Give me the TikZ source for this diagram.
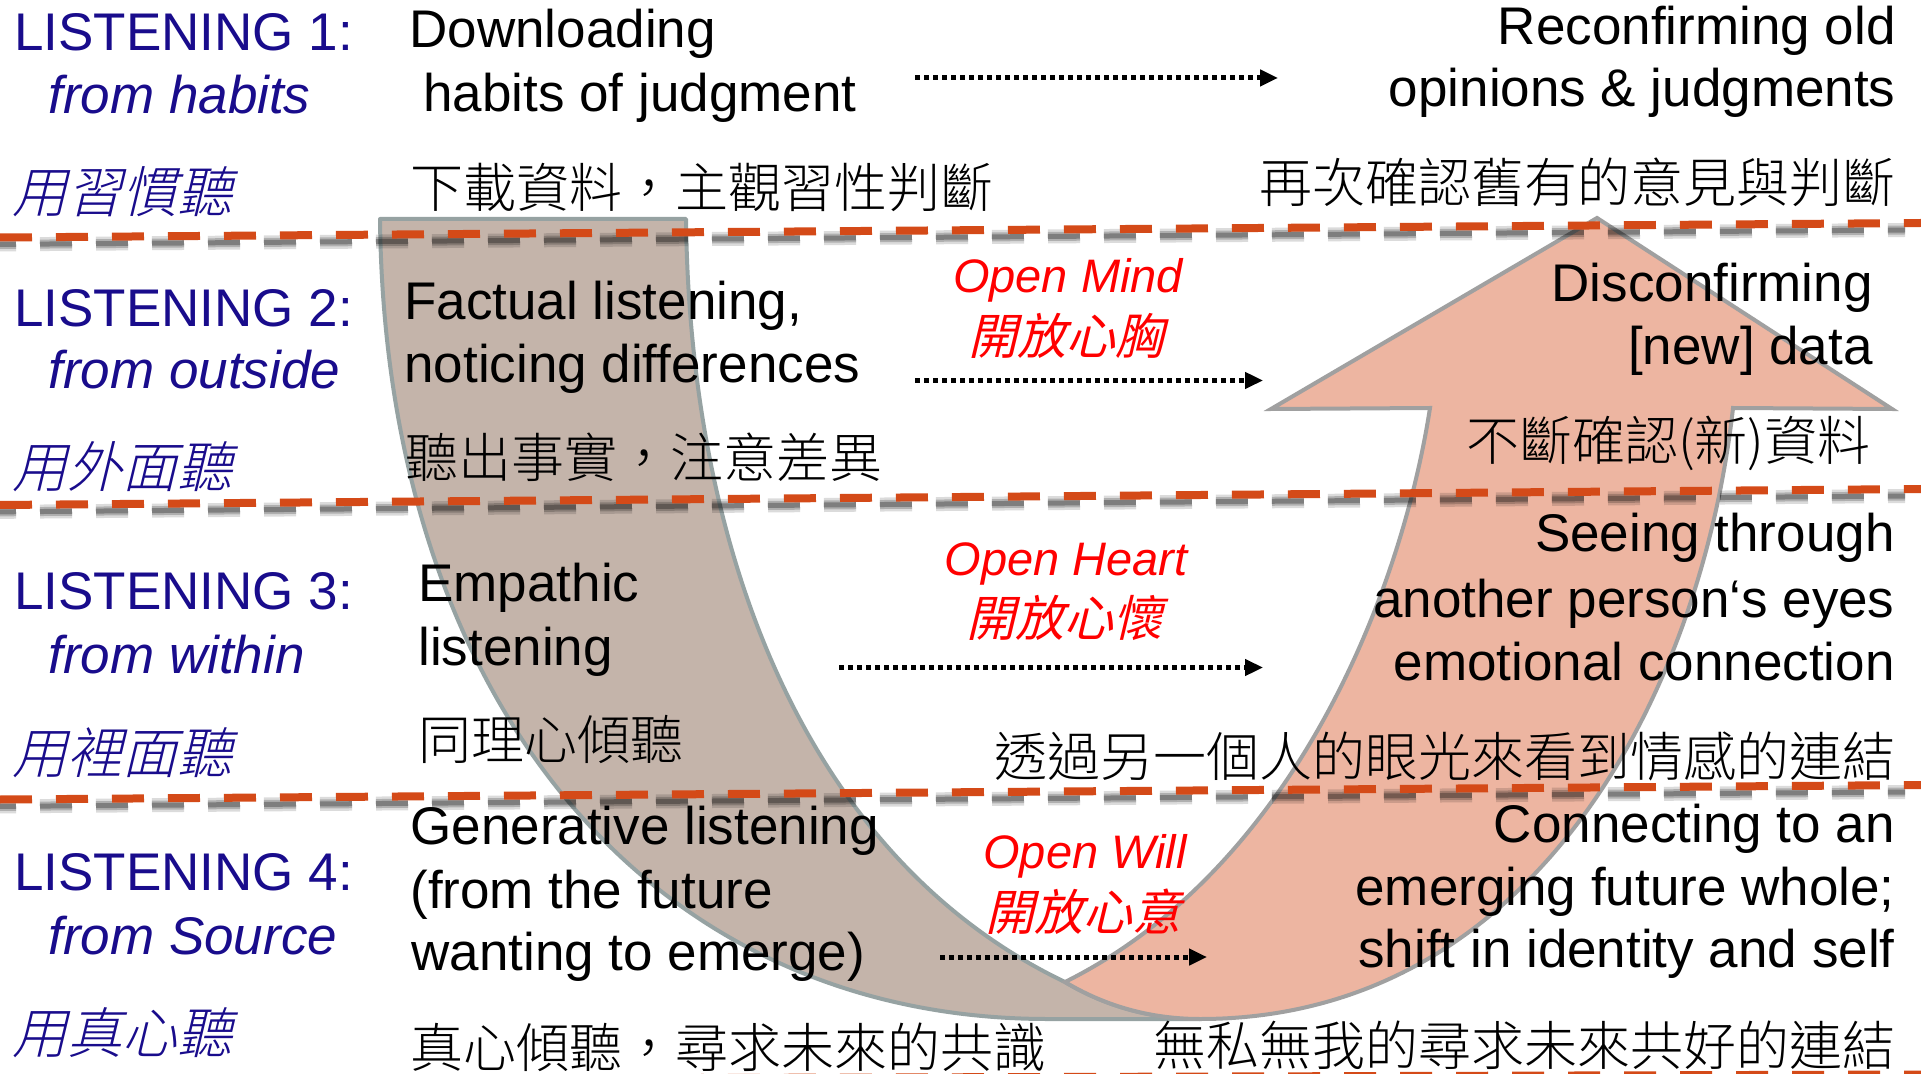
\documentclass[tikz,border=0pt]{standalone}
\usepackage{fontspec}
\setmainfont{Liberation Sans}
\newfontfamily\cjk{Noto Sans CJK TC}[UprightFont={* Light}]
\newfontfamily\cjkit{Noto Sans CJK TC}[UprightFont={* Light},FakeSlant=0.24]
\newfontfamily\cjkred{Noto Sans CJK TC}[FakeSlant=0.24]
\usetikzlibrary{arrows.meta}
\definecolor{navy}{RGB}{25,12,140}
\definecolor{dashorange}{RGB}{212,74,24}
\definecolor{brownfill}{RGB}{196,180,170}
\definecolor{brownedge}{RGB}{150,162,162}
\definecolor{pinkfill}{RGB}{237,181,161}
\definecolor{pinkedge}{RGB}{160,160,160}
\definecolor{openred}{RGB}{255,0,0}
\tikzset{
  lt/.style={inner sep=0pt, anchor=base west, font=\fontsize{26.5pt}{30pt}\selectfont},
  rt/.style={inner sep=0pt, anchor=base east, font=\fontsize{26.5pt}{30pt}\selectfont},
  ltzh/.style={inner sep=0pt, anchor=base west, font=\cjk\fontsize{26.5pt}{30pt}\selectfont},
  rtzh/.style={inner sep=0pt, anchor=base east, font=\cjk\fontsize{26.5pt}{30pt}\selectfont},
  lvl/.style={lt, text=navy},
  lvlit/.style={inner sep=0pt, anchor=base west, text=navy, font=\fontsize{26.5pt}{30pt}\selectfont\itshape},
  lvlzh/.style={inner sep=0pt, anchor=base west, text=navy, font=\cjkit\fontsize{27.5pt}{30pt}\selectfont},
  openlab/.style={inner sep=0pt, anchor=base, text=openred, font=\fontsize{23.5pt}{26pt}\selectfont\itshape},
  openzh/.style={inner sep=0pt, anchor=base, text=openred, font=\cjkred\fontsize{24.5pt}{26pt}\selectfont},
  sepline/.style={draw=dashorange, line width=4pt, dash pattern=on 16pt off 12pt},
  shadowA/.style={draw=black, opacity=0.14, line width=7pt, dash pattern=on 16pt off 12pt},
  shadowB/.style={draw=black, opacity=0.2, line width=4.5pt, dash pattern=on 16pt off 12pt},
  shadowC/.style={draw=black, opacity=0.28, line width=2.5pt, dash pattern=on 16pt off 12pt},
  dotarrow/.style={draw=black, line width=2.5pt, dash pattern=on 2.5pt off 2pt, -{Triangle[length=9pt,width=8pt]}},
  bandbrown/.style={fill=brownfill, draw=brownedge, line width=2pt, line join=round},
  bandpink/.style={fill=pinkfill, draw=pinkedge, line width=2pt, line join=miter}
}
\begin{document}
\begin{tikzpicture}[x=0.5pt,y=-0.5pt]
\useasboundingbox[fill=white] (0,0) rectangle (1921,1074);

% U-shaped band
\path[bandbrown]
 (380,219) -- (686,219) .. controls (690,560) and (810,860) .. (1065,982)
 .. controls (1095,1000) and (1140,1019) .. (1200,1019) -- (1050,1019)
 .. controls (650,1020) and (385,700) .. (380,219) -- cycle;
\path[bandpink]
 (1065,982) .. controls (1290,870) and (1400,600) .. (1430,408) -- (1271,409)
 -- (1597,218) -- (1892,409) -- (1733,408)
 .. controls (1700,700) and (1530,1019) .. (1200,1019)
 .. controls (1140,1019) and (1095,1000) .. (1065,982) -- cycle;

% separator lines
\foreach \ya/\yb [count=\i] in {237.5/223, 505/489, 799.5/785, 1080/1074.5}{
  \coordinate (s\i a) at (0,\ya);
  \coordinate (s\i b) at (1921,\yb);
  \coordinate (h\i a) at (-16,\ya+7);
  \coordinate (h\i b) at (1905,\yb+7);
  \draw[shadowA] (h\i a) -- (h\i b);
  \draw[shadowB] (h\i a) -- (h\i b);
  \draw[shadowC] (h\i a) -- (h\i b);
  \draw[sepline] (s\i a) -- (s\i b);
}

% dotted arrows
\coordinate (a1s) at (915,78);    \coordinate (a1e) at (1278,78);
\coordinate (a2s) at (915,380.5); \coordinate (a2e) at (1263,380.5);
\coordinate (a3s) at (839,667.5); \coordinate (a3e) at (1263,667.5);
\coordinate (a4s) at (940,957);   \coordinate (a4e) at (1207,957);
\draw[dotarrow] (a1s) -- (a1e);
\draw[dotarrow] (a2s) -- (a2e);
\draw[dotarrow] (a3s) -- (a3e);
\draw[dotarrow] (a4s) -- (a4e);

% left column
\node[lvl]   (l1)  at (14,51)  {LISTENING 1:};
\node[lvlit] (l1b) at (48,114) {from habits};
\node[lvlzh] (l1c) at (12,213) {用習慣聽};
\node[lvl]   (l2)  at (14,327) {LISTENING 2:};
\node[lvlit] (l2b) at (48,389) {from outside};
\node[lvlzh] (l2c) at (12,488) {用外面聽};
\node[lvl]   (l3)  at (14,610) {LISTENING 3:};
\node[lvlit] (l3b) at (48,673) {from within};
\node[lvlzh] (l3c) at (12,773) {用裡面聽};
\node[lvl]   (l4)  at (14,890) {LISTENING 4:};
\node[lvlit] (l4b) at (48,954) {from Source};
\node[lvlzh] (l4c) at (12,1053) {用真心聽};

% middle column
\node[lt]   (m1a) at (409,48)  {Downloading};
\node[lt]   (m1b) at (423,112) {habits of judgment};
\node[ltzh] (m1c) at (410,208) {下載資料，主觀習性判斷};
\node[lt]   (m2a) at (404,320) {Factual listening,};
\node[lt]   (m2b) at (404,383) {noticing differences};
\node[ltzh] (m2c) at (405,478) {聽出事實，注意差異};
\node[lt]   (m3a) at (418,601) {Empathic};
\node[lt]   (m3b) at (418,665) {listening};
\node[ltzh] (m3c) at (418,759) {同理心傾聽};
\node[lt]   (m4a) at (410,844) {Generative listening};
\node[lt]   (m4b) at (410,908) {(from the future};
\node[lt]   (m4c) at (411,970) {wanting to emerge)};
\node[ltzh] (m4d) at (410,1067) {真心傾聽，尋求未來的共識};

% open labels
\node[openlab] (o1) at (1068,293) {Open Mind};
\node[openzh]  (o1z) at (1066,355) {開放心胸};
\node[openlab] (o2) at (1066,575) {Open Heart};
\node[openzh]  (o2z) at (1064,636) {開放心懷};
\node[openlab] (o3) at (1085,868) {Open Will};
\node[openzh]  (o3z) at (1083,930) {開放心意};

% right column
\node[rt]   (r1a) at (1896,45)  {Reconfirming old};
\node[rt]   (r1b) at (1896,107) {opinions \& judgments};
\node[rtzh] (r1c) at (1896,203) {再次確認舊有的意見與判斷};
\node[rt]   (r2a) at (1873,302) {Disconfirming};
\node[rt]   (r2b) at (1873,365) {[new] data};
\node[rtzh] (r2c) at (1871,461) {不斷確認(新)資料};
\node[rt]   (r3a) at (1895,552) {Seeing through};
\node[rt]   (r3b) at (1895,617) {another person‘s eyes};
\node[rt]   (r3c) at (1895,680) {emotional connection};
\node[rtzh] (r3d) at (1896,776) {透過另一個人的眼光來看到情感的連結};
\node[rt]   (r4a) at (1895,842) {Connecting to an};
\node[rt]   (r4b) at (1895,905) {emerging future whole;};
\node[rt]   (r4c) at (1895,967) {shift in identity and self};
\node[rtzh] (r4d) at (1896,1065) {無私無我的尋求未來共好的連結};
\end{tikzpicture}
\end{document}
